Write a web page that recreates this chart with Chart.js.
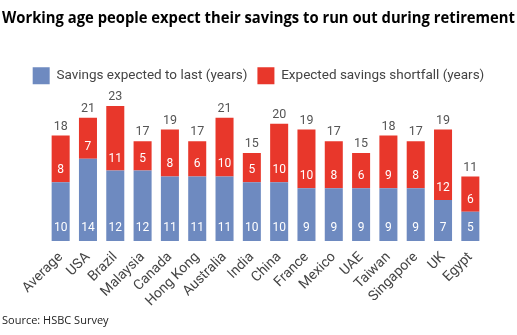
<!DOCTYPE html>
<html>
<head>
<meta charset="utf-8">
<script src="https://cdn.jsdelivr.net/npm/chart.js@4"></script>
<style>
  html, body { margin: 0; padding: 0; background: #fff; }
  #wrap { width: 517px; height: 335px; }
</style>
</head>
<body>
<div id="wrap"><canvas id="grafico"></canvas></div>
<script>
// datos
const paises = ["Average", "USA", "Brazil", "Malaysia", "Canada", "Hong Kong", "Australia", "India",
  "China", "France", "Mexico", "UAE", "Taiwan", "Singapore", "UK", "Egypt"];
const ahorros = [10, 14, 12, 12, 11, 11, 11, 10, 10, 9, 9, 9, 9, 9, 7, 5];
const deficit = [8, 7, 11, 5, 8, 6, 10, 5, 10, 10, 8, 6, 9, 8, 12, 6];

const azul = '#6E8AC0';
const rojo = '#E8372B';

// etiquetas de valores dentro y encima de las barras
const etiquetas = {
  id: 'etiquetas',
  afterDatasetsDraw(chart) {
    const ctx = chart.ctx;
    const metaA = chart.getDatasetMeta(0);
    const metaD = chart.getDatasetMeta(1);
    ctx.save();
    ctx.textAlign = 'center';
    ctx.textBaseline = 'middle';
    ctx.font = '12px Roboto';
    ctx.fillStyle = '#fff';
    metaA.data.forEach((bar, i) => {
      ctx.fillText(ahorros[i], bar.x, bar.base - 13);
    });
    metaD.data.forEach((bar, i) => {
      ctx.fillText(deficit[i], bar.x, bar.base - 12);
    });
    ctx.fillStyle = '#555';
    ctx.font = '12.5px Roboto';
    metaD.data.forEach((bar, i) => {
      ctx.fillText(ahorros[i] + deficit[i], bar.x, bar.y - 9);
    });
    ctx.restore();
  }
};

// ejes invisibles solo para dejar margen a los lados
const margen = (ancho) => ({
  display: true,
  grid: { display: false },
  border: { display: false },
  ticks: { display: false },
  afterFit(scale) { scale.width = ancho; }
});

new Chart(document.getElementById('grafico'), {
  type: 'bar',
  data: {
    labels: paises,
    datasets: [{
      label: 'Savings expected to last (years)',
      data: ahorros,
      backgroundColor: azul
    }, {
      label: 'Expected savings shortfall (years)',
      data: deficit,
      backgroundColor: rojo
    }]
  },
  options: {
    responsive: true,
    maintainAspectRatio: false,
    animation: false,
    layout: { padding: { left: 2, right: 2, top: 4, bottom: 0 } },
    datasets: { bar: { categoryPercentage: 1, barPercentage: 0.66 } },
    plugins: {
      tooltip: { enabled: false },
      title: {
        display: true,
        text: 'Working age people expect their savings to run out during retirement',
        align: 'start',
        color: '#000',
        font: { family: 'Open Sans', size: 15.3, weight: 'bold' },
        padding: { top: 5, bottom: 30 }
      },
      subtitle: {
        display: true,
        position: 'bottom',
        align: 'start',
        text: 'Source: HSBC Survey',
        color: '#222',
        font: { family: 'Open Sans', size: 11 },
        padding: { top: 4, bottom: 8 }
      },
      legend: {
        labels: {
          boxWidth: 17,
          boxHeight: 17,
          color: '#444',
          font: { family: 'Roboto', size: 13.5 },
          padding: 10
        }
      }
    },
    scales: {
      x: {
        stacked: true,
        grid: { display: false },
        border: { display: false },
        ticks: {
          autoSkip: false,
          minRotation: 45,
          maxRotation: 45,
          color: '#444',
          font: { family: 'Roboto', size: 14 },
          padding: 0
        }
      },
      y: {
        stacked: true,
        display: false,
        min: 0,
        max: 25
      },
      izq: Object.assign(margen(45), { position: 'left' }),
      der: Object.assign(margen(31), { position: 'right' })
    }
  },
  plugins: [etiquetas]
});
</script>
</body>
</html>
